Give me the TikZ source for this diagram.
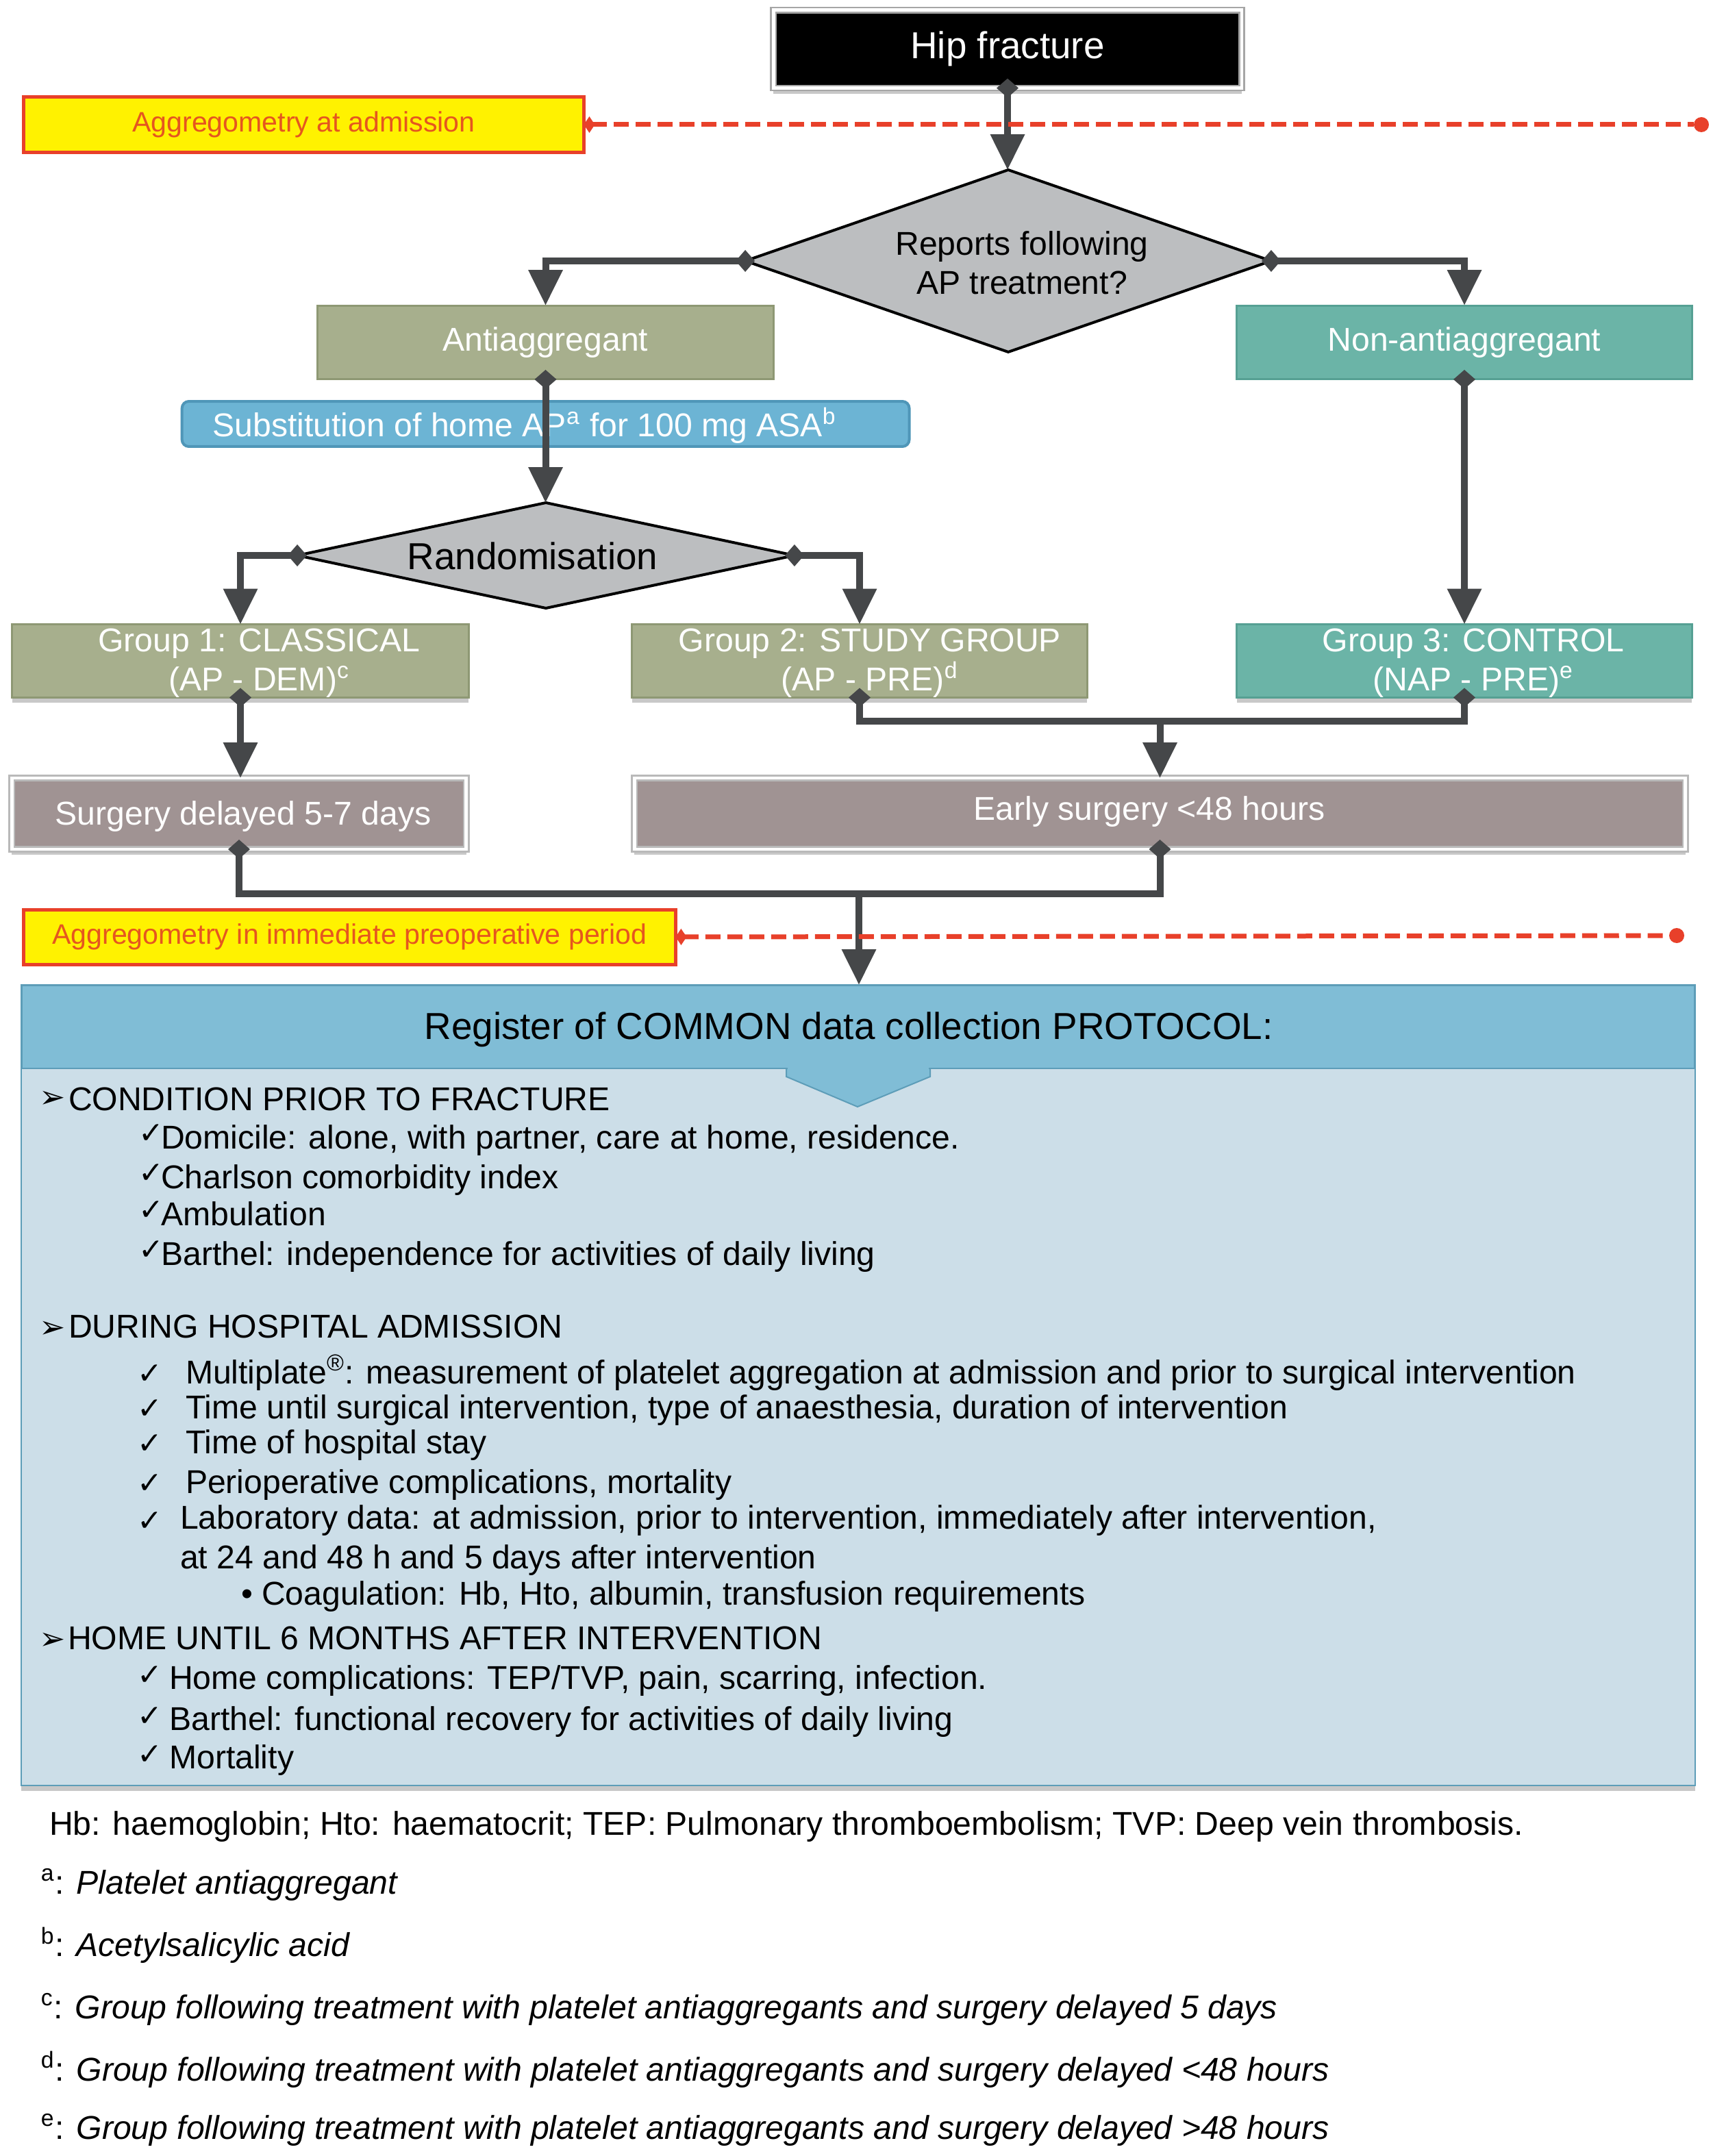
\documentclass[tikz,border=0pt]{standalone}
\usepackage{fontspec}
\setmainfont{Liberation Sans}
\newfontfamily\symfont{DejaVu Sans}
\usetikzlibrary{arrows.meta,shapes.geometric,shadows}
\definecolor{cArrow}{HTML}{454749}
\definecolor{cYellow}{HTML}{FFF200}
\definecolor{cRed}{HTML}{E8402A}
\definecolor{cAggText}{HTML}{E5561F}
\definecolor{cDia}{HTML}{BCBEC0}
\definecolor{cOlive}{HTML}{A7AF8D}
\definecolor{cOliveEdge}{HTML}{8E9874}
\definecolor{cTeal}{HTML}{6BB4A7}
\definecolor{cTealEdge}{HTML}{56A093}
\definecolor{cBlue}{HTML}{6CB4D4}
\definecolor{cBlueEdge}{HTML}{4F96B8}
\definecolor{cMauve}{HTML}{A09393}
\definecolor{cHead}{HTML}{80BDD6}
\definecolor{cBody}{HTML}{CCDEE8}
\definecolor{cBoxEdge}{HTML}{5D9DB8}
\newcommand{\fmain}{\fontsize{13.7}{16.4}\selectfont}
\newcommand{\fbig}{\fontsize{15.6}{18}\selectfont}
\newcommand{\fagg}{\fontsize{11.7}{14}\selectfont}
\begin{document}
\begin{tikzpicture}[x=0.02cm,y=-0.02cm,
  every node/.style={inner sep=0pt,outer sep=0pt},
  shadowed/.style={drop shadow={shadow xshift=0cm,shadow yshift=-0.08cm,opacity=0.3,fill=black!70}},
  hipbox/.style={fill=black,draw=gray!70,double=white,line width=0.7pt,double distance=1.4pt,text=white,font=\fbig,shadowed},
  aggbox/.style={fill=cYellow,draw=cRed,line width=0.05cm,text=cAggText,font=\fagg},
  dec/.style={shape=diamond,fill=cDia,draw=black,line width=0.04cm},
  olivebox/.style={fill=cOlive,draw=cOliveEdge,line width=0.03cm,text=white,font=\fmain},
  tealbox/.style={fill=cTeal,draw=cTealEdge,line width=0.03cm,text=white,font=\fmain},
  substbox/.style={fill=cBlue,draw=cBlueEdge,line width=0.04cm,rounded corners=0.1cm},
  surgbox/.style={fill=cMauve,draw=gray!55,double=white,line width=0.7pt,double distance=1.4pt,text=white,font=\fmain,shadowed},
  wtext/.style={text=white,font=\fmain,align=center},
  qtext/.style={text=black,font=\fontsize{13.7}{16.2}\selectfont,align=center},
  conn/.style={draw=cArrow,line width=0.1cm,arrows={-Triangle[length=0.52cm,width=0.48cm]}},
  dstart/.style={arrows={Diamond[length=0.28cm,width=0.32cm]-Triangle[length=0.52cm,width=0.48cm]},shorten <=-0.14cm},
  dboth/.style={arrows={Diamond[length=0.28cm,width=0.32cm]-Diamond[length=0.28cm,width=0.32cm]},shorten <=-0.14cm,shorten >=-0.14cm},
  reddash/.style={draw=cRed,line width=0.07cm,dash pattern=on 0.22cm off 0.1cm,arrows={Diamond[length=0.16cm,width=0.24cm]-}},
  reddot/.style={circle,fill=cRed,minimum size=0.22cm},
  btext/.style={anchor=mid west,font=\fmain},
  chk/.style={anchor=mid west,font=\symfont\fontsize{12.5}{14}\selectfont},
  arr/.style={anchor=mid west,font=\symfont\fontsize{13}{15}\selectfont}]
\useasboundingbox (0,0) rectangle (1250,1574);
\fill[white] (0,0) rectangle (1250,1574);

% flow nodes
\node[hipbox,minimum width=6.84cm,minimum height=1.14cm] (hip) at (735.5,35.8) {Hip fracture};
\node[aggbox,minimum width=8.18cm,minimum height=0.81cm] (agg1) at (221.75,91) {Aggregometry at admission};
\node[reddot] (dot1) at (1242,91) {};
\node[dec,minimum width=7.68cm,minimum height=2.66cm] (q) at (736,190.5) {};
\node[qtext] (qt) at (746,192) {Reports following\\AP treatment?};
\node[olivebox,minimum width=6.66cm,minimum height=1.08cm] (anti) at (398.25,250) {Antiaggregant};
\node[tealbox,minimum width=6.65cm,minimum height=1.08cm] (nonanti) at (1069,250) {Non-antiaggregant};
\node[substbox,minimum width=10.62cm,minimum height=0.66cm] (subst) at (398.3,309.5) {};
\node[wtext] (substt) at (383,310.5) {Substitution of home AP\textsuperscript{a} for 100 mg ASA\textsuperscript{b}};
\node[dec,minimum width=7.26cm,minimum height=1.54cm] (rand) at (398.5,405.5) {};
\node[font=\fbig] (randt) at (388.7,406) {Randomisation};
\node[olivebox,shadowed,minimum width=6.67cm,minimum height=1.07cm] (g1) at (175.5,482.5) {};
\node[wtext] (g1t) at (189.2,484) {Group 1: CLASSICAL\\(AP - DEM)\textsuperscript{c}};
\node[olivebox,shadowed,minimum width=6.65cm,minimum height=1.07cm] (g2) at (627.5,482.5) {};
\node[wtext] (g2t) at (635,484) {Group 2: STUDY GROUP\\(AP - PRE)\textsuperscript{d}};
\node[tealbox,shadowed,minimum width=6.65cm,minimum height=1.07cm] (g3) at (1069,482.5) {};
\node[wtext] (g3t) at (1075.5,484) {Group 3: CONTROL\\(NAP - PRE)\textsuperscript{e}};
\node[surgbox,minimum width=6.64cm,minimum height=1.04cm] (s1) at (174.5,594) {};
\node[wtext] (s1t) at (177.5,596) {Surgery delayed 5-7 days};
\node[surgbox,minimum width=15.35cm,minimum height=1.04cm] (s2) at (846.75,594) {};
\node[wtext] (s2t) at (839,592.5) {Early surgery <48 hours};
\node[aggbox,minimum width=9.52cm,minimum height=0.8cm] (agg2) at (255.25,684) {Aggregometry in immediate preoperative period};
\node[reddot] (dot2) at (1224,683) {};

% register box
\node[fill=cBody,draw=cBoxEdge,line width=0.02cm,shadowed,minimum width=24.44cm,minimum height=10.47cm] (body) at (626.5,1041.75) {};
\node[fill=cHead,draw=cBoxEdge,line width=0.03cm,minimum width=24.44cm,minimum height=1.22cm] (head) at (626.5,749.5) {};
\filldraw[fill=cHead,draw=cBoxEdge,line width=0.02cm] (574,780) -- (679,780) -- (679,786) -- (626,808) -- (574,786) -- cycle;
\fill[cHead] (575,778) rectangle (678,781);
\node[font=\fbig] (headt) at (619.5,751.6) {Register of COMMON data collection PROTOCOL:};

% connectors
\draw[conn,dstart] (hip.south) -- (hip.south |- q.north);
\draw[conn,dstart] (q.west) -| (anti.north);
\draw[conn,dstart] (q.east) -| (nonanti.north);
\draw[conn,dstart] (anti.south) -- (anti.south |- rand.north);
\draw[conn,dstart] (rand.west) -| (g1.north);
\draw[conn,dstart] (rand.east) -| (g2.north);
\draw[conn,dstart] (nonanti.south) -- (nonanti.south |- g3.north);
\draw[conn,dstart] (g1.south) -- (g1.south |- s1.north);
\coordinate (j1) at (846.75,526.7);
\draw[conn,dboth] (g2.south) |- (j1) -| (g3.south);
\draw[conn] (j1) -- (j1 |- s2.north);
\coordinate (j2) at (627,652.3);
\draw[conn,dboth] (s1.south) |- (j2) -| (s2.south);
\draw[conn] (j2) -- (j2 |- head.north);
\draw[reddash] (agg1.east) -- (dot1);
\draw[reddash] (agg2.east) -- (dot2);

% register content
\begin{scope}[yshift=-0.06cm]
\node[arr] (b1) at (29,801) {➢};
\node[btext] (l1) at (50,803) {CONDITION PRIOR TO FRACTURE};
\node[chk] (c1) at (101,827) {✓};
\node[btext] (l2) at (117.6,831) {Domicile: alone, with partner, care at home, residence.};
\node[chk] (c2) at (101,856) {✓};
\node[btext] (l3) at (117.6,860) {Charlson comorbidity index};
\node[chk] (c3) at (101,883) {✓};
\node[btext] (l4) at (117.6,887) {Ambulation};
\node[chk] (c4) at (101,912) {✓};
\node[btext] (l5) at (117.6,916) {Barthel: independence for activities of daily living};
\node[arr] (b2) at (29,969) {➢};
\node[btext] (l6) at (50,969) {DURING HOSPITAL ADMISSION};
\node[chk] (c5) at (100,1002.5) {✓};
\node[btext] (l7) at (135.5,1002.5) {Multiplate\textsuperscript{®}: measurement of platelet aggregation at admission and prior to surgical intervention};
\node[chk] (c6) at (100,1028) {✓};
\node[btext] (l8) at (135.5,1028) {Time until surgical intervention, type of anaesthesia, duration of intervention};
\node[chk] (c7) at (100,1053.5) {✓};
\node[btext] (l9) at (135.5,1053.5) {Time of hospital stay};
\node[chk] (c8) at (100,1082.5) {✓};
\node[btext] (l10) at (135.5,1082.5) {Perioperative complications, mortality};
\node[chk] (c9) at (100,1110) {✓};
\node[btext] (l11) at (131.6,1108.5) {Laboratory data: at admission, prior to intervention, immediately after intervention,};
\node[btext] (l12) at (131.6,1137.5) {at 24 and 48 h and 5 days after intervention};
\node[btext] (c10) at (176,1164) {•};
\node[btext] (l13) at (191,1164) {Coagulation: Hb, Hto, albumin, transfusion requirements};
\node[arr] (b3) at (29,1196.5) {➢};
\node[btext] (l14) at (49.5,1196.5) {HOME UNTIL 6 MONTHS AFTER INTERVENTION};
\node[chk] (c11) at (100,1222.5) {✓};
\node[btext] (l15) at (123.6,1225.5) {Home complications: TEP/TVP, pain, scarring, infection.};
\node[chk] (c12) at (100,1252.5) {✓};
\node[btext] (l16) at (123.6,1255.5) {Barthel: functional recovery for activities of daily living};
\node[chk] (c13) at (100,1280.5) {✓};
\node[btext] (l17) at (123.6,1283.5) {Mortality};

% notes
\node[btext] (n0) at (36,1332) {Hb: haemoglobin; Hto: haematocrit; TEP: Pulmonary thromboembolism; TVP: Deep vein thrombosis.};
\node[btext] (na) at (30,1375) {\textsuperscript{a}: \textit{Platelet antiaggregant}};
\node[btext] (nb) at (30,1420.6) {\textsuperscript{b}: \textit{Acetylsalicylic acid}};
\node[btext] (nc) at (30,1466) {\textsuperscript{c}: \textit{Group following treatment with platelet antiaggregants and surgery delayed 5 days}};
\node[btext] (nd) at (30,1511.5) {\textsuperscript{d}: \textit{Group following treatment with platelet antiaggregants and surgery delayed <48 hours}};
\node[btext] (ne) at (30,1554) {\textsuperscript{e}: \textit{Group following treatment with platelet antiaggregants and surgery delayed >48 hours}};
\end{scope}
\end{tikzpicture}
\end{document}
